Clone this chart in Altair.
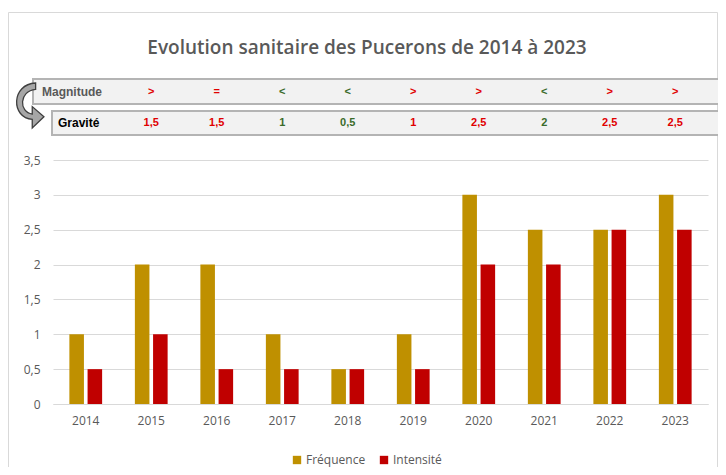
import altair as alt
import pandas as pd

years = ["2014", "2015", "2016", "2017", "2018", "2019", "2020", "2021", "2022", "2023"]
frequence = [1, 2, 2, 1, 0.5, 1, 3, 2.5, 2.5, 3]
intensite = [0.5, 1, 0.5, 0.5, 0.5, 0.5, 2, 2, 2.5, 2.5]
mag_years = ["2015", "2016", "2017", "2018", "2019", "2020", "2021", "2022", "2023"]
magnitude = [">", "=", "<", "<", ">", ">", "<", ">", ">"]
gravite = ["1,5", "1,5", "1", "0,5", "1", "2,5", "2", "2,5", "2,5"]
trend = ["up", "up", "down", "down", "up", "up", "down", "up", "up"]
series = ["Fréquence", "Intensité"]
colors = ["#BF9000", "#C00000"]
title = "Evolution sanitaire des Pucerons de 2014 à 2023"

rows = []
for i, y in enumerate(years):
    rows.append({"year": y, "serie": series[0], "value": frequence[i]})
    rows.append({"year": y, "serie": series[1], "value": intensite[i]})
bars_df = pd.DataFrame(rows)
tab_df = pd.DataFrame({"year": mag_years, "mag": magnitude, "grav": gravite, "trend": trend})

FONT = "Open Sans"
GREY = "#595959"

xscale = alt.Scale(domain=years, paddingInner=0.5, paddingOuter=0.25)
xaxis = alt.Axis(title=None, labelAngle=0, ticks=False, domainColor="#d9d9d9",
                 domainWidth=1, labelColor=GREY, labelFont=FONT, labelFontSize=12,
                 labelPadding=11)

bars = alt.Chart(bars_df).mark_bar().encode(
    x=alt.X("year:N", scale=xscale, sort=years, axis=xaxis),
    xOffset=alt.XOffset("serie:N", sort=series, scale=alt.Scale(paddingInner=0.2, paddingOuter=0)),
    y=alt.Y("value:Q", scale=alt.Scale(domain=[0, 3.5], nice=False),
            axis=alt.Axis(title=None, values=[0, 0.5, 1, 1.5, 2, 2.5, 3, 3.5], domain=False,
                          ticks=False, gridColor="#d9d9d9", labelColor=GREY, labelFont=FONT,
                          labelFontSize=12, labelPadding=13,
                          labelExpr="replace(format(datum.value, '~g'), '.', ',')")),
    color=alt.Color("serie:N", sort=series, scale=alt.Scale(domain=series, range=colors),
                    legend=alt.Legend(title=None, orient="none", direction="horizontal",
                                      legendX=238, legendY=294, symbolType="square",
                                      symbolSize=70, symbolStrokeWidth=0, labelFont=FONT,
                                      labelFontSize=12, labelColor=GREY, columnPadding=12,
                                      labelOffset=3)),
)

# decorative frame and table boxes
frame = alt.Chart(pd.DataFrame({"a": [0]})).mark_rect(
    fillOpacity=0, stroke="#d9d9d9", strokeWidth=1).encode(
    x=alt.value(-44.5), x2=alt.value(664.5), y=alt.value(-147.5), y2=alt.value(330))

box_mag = alt.Chart(pd.DataFrame({"a": [0]})).mark_rect(
    fill="#f2f2f2", stroke="#b4b4b4", strokeWidth=2).encode(
    x=alt.value(-20), x2=alt.value(666), y=alt.value(-81), y2=alt.value(-56))
box_grav = alt.Chart(pd.DataFrame({"a": [0]})).mark_rect(
    fill="#f2f2f2", stroke="#b4b4b4", strokeWidth=2).encode(
    x=alt.value(-1), x2=alt.value(666), y=alt.value(-49), y2=alt.value(-25))

lab_mag = alt.Chart(pd.DataFrame({"t": ["Magnitude"]})).mark_text(
    font="Liberation Sans", fontWeight="bold", fontSize=12, align="left", baseline="middle",
    color=GREY).encode(text="t:N", x=alt.value(-11), y=alt.value(-68.5))
lab_grav = alt.Chart(pd.DataFrame({"t": ["Gravité"]})).mark_text(
    font="Liberation Sans", fontWeight="bold", fontSize=12, align="left", baseline="middle",
    color="black").encode(text="t:N", x=alt.value(5), y=alt.value(-37))

tcolor = alt.Color("trend:N", scale=alt.Scale(domain=["up", "down"], range=["#E00000", "#3A6B2A"]),
                   legend=None)
mag_text = alt.Chart(tab_df).mark_text(
    font="Liberation Sans", fontWeight="bold", fontSize=11, baseline="middle").encode(
    x=alt.X("year:N", scale=xscale, sort=years, axis=xaxis), text="mag:N", color=tcolor,
    y=alt.value(-68.5))
grav_text = alt.Chart(tab_df).mark_text(
    font="Liberation Sans", fontWeight="bold", fontSize=11, baseline="middle").encode(
    x=alt.X("year:N", scale=xscale, sort=years, axis=xaxis), text="grav:N", color=tcolor,
    y=alt.value(-37))

arrow_path = ("M 0.25 -1 C -0.85 -0.95 -0.85 0.55 0.1 0.62 L 0.1 1 L 0.62 0.5 "
              "L 0.1 0.05 L 0.1 0.38 C -0.5 0.3 -0.5 -0.65 0.25 -0.72 Z")
arrow = alt.Chart(pd.DataFrame({"a": [0]})).mark_point(
    shape=arrow_path, filled=True, fill="#a6a6a6", stroke="#3f3f3f", strokeWidth=1.3,
    opacity=1, size=2025).encode(x=alt.value(-23), y=alt.value(-54.5))

title_mark = alt.Chart(pd.DataFrame({"t": [title]})).mark_text(
    font=FONT, fontWeight=600, fontSize=19, color=GREY, align="center",
    baseline="middle").encode(text="t:N", x=alt.value(314), y=alt.value(-112))

chart = alt.layer(
    frame, box_mag, box_grav, arrow, lab_mag, lab_grav, mag_text, grav_text, title_mark, bars
).resolve_scale(color="independent").properties(
    width=655, height=244, autosize="none",
    padding={"left": 45, "top": 152, "right": 10, "bottom": 63},
).configure_view(stroke=None)

chart.save("out.html", embed_options={"renderer": "svg", "actions": False})
